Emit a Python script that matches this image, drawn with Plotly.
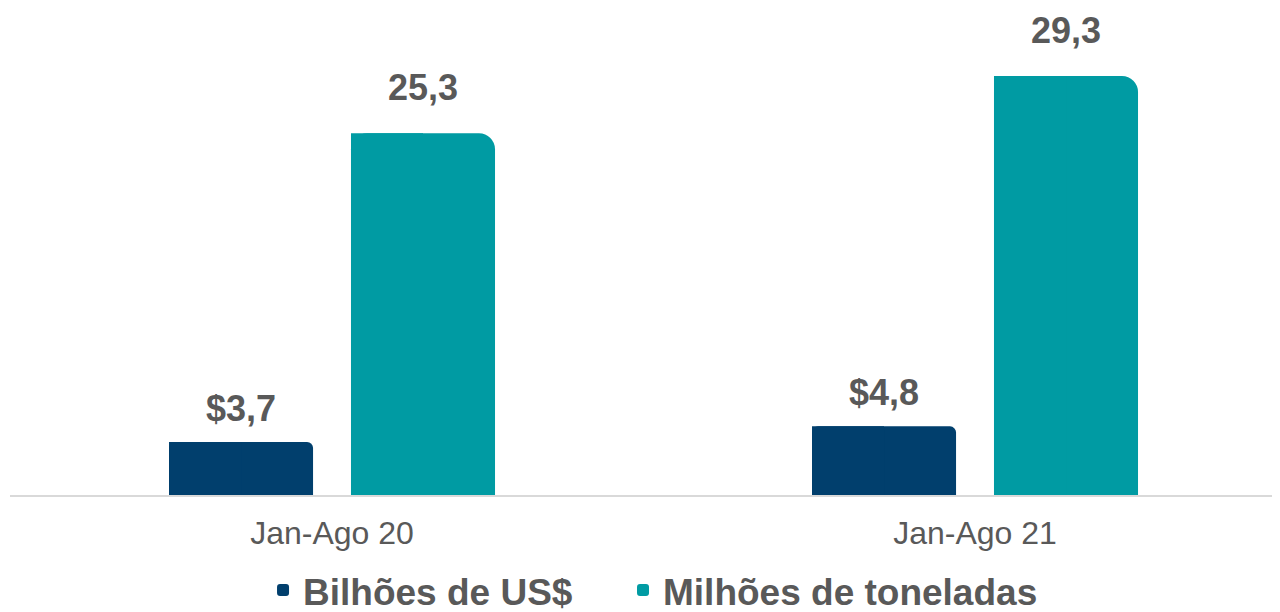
import plotly.graph_objects as go

categories = ["Jan-Ago 20", "Jan-Ago 21"]
bilhoes_usd = [3.7, 4.8]
milhoes_ton = [25.3, 29.3]
bilhoes_labels = ["$3,7", "$4,8"]
milhoes_labels = ["25,3", "29,3"]
series_names = ["Bilhões de US$", "Milhões de toneladas"]

NAVY = "#013F6D"
TEAL = "#009BA3"
GREY = "#595959"
FONT = "Liberation Sans, Arial, sans-serif"

xpos = list(range(len(categories)))
bar_w = 0.224
shift = 0.1415

fig = go.Figure()
series = [
    (bilhoes_usd, series_names[0], NAVY, -shift, 6, "legend"),
    (milhoes_ton, series_names[1], TEAL, shift, 16, "legend2"),
]
for vals, name, color, sh, rad, leg in series:
    # main bar with rounded top corners
    fig.add_trace(go.Bar(
        x=xpos, y=vals, name=name, legend=leg,
        width=bar_w, offset=sh - bar_w / 2,
        marker=dict(color=color, cornerradius=rad, line=dict(width=0)),
    ))
    # same bar, left half square-cornered (leaf style: only top-right rounded)
    fig.add_trace(go.Bar(
        x=xpos, y=vals, name=name, showlegend=False, hoverinfo="skip",
        width=bar_w / 2, offset=sh - bar_w / 2,
        marker=dict(color=color, cornerradius=0, line=dict(width=0)),
    ))

annotations = []
for i in xpos:
    annotations.append(dict(
        x=i - shift, y=bilhoes_usd[i], xref="x", yref="y",
        text=bilhoes_labels[i], showarrow=False, yanchor="bottom", yshift=11,
        font=dict(family=FONT, size=36, color=GREY, weight="bold"),
    ))
    annotations.append(dict(
        x=i + shift, y=milhoes_ton[i], xref="x", yref="y",
        text=milhoes_labels[i], showarrow=False, yanchor="bottom", yshift=23,
        font=dict(family=FONT, size=36, color=GREY, weight="bold"),
    ))

legend_common = dict(
    orientation="h", xref="container", yref="paper",
    xanchor="left", y=-0.197, yanchor="middle",
    font=dict(family=FONT, size=37, color=GREY, weight="bold"),
    bgcolor="rgba(0,0,0,0)",
)

fig.update_layout(
    width=1272, height=604,
    margin=dict(l=2, r=0, t=2, b=117, autoexpand=False),
    paper_bgcolor="white", plot_bgcolor="white",
    barmode="overlay",
    showlegend=True,
    legend=dict(x=0.2005, **legend_common),
    legend2=dict(x=0.4835, **legend_common),
    annotations=annotations,
    xaxis=dict(
        range=[-0.5008, 1.4743],
        tickmode="array", tickvals=xpos, ticktext=categories,
        showline=True, linecolor="#D9D9D9", linewidth=2,
        showgrid=False, zeroline=False, ticks="",
        ticklabelstandoff=9,
        tickfont=dict(family=FONT, size=32, color=GREY),
        fixedrange=True,
    ),
    yaxis=dict(
        range=[0, 33.92], visible=False, showgrid=False, zeroline=False,
        fixedrange=True,
    ),
)

fig.write_html("out.html")
